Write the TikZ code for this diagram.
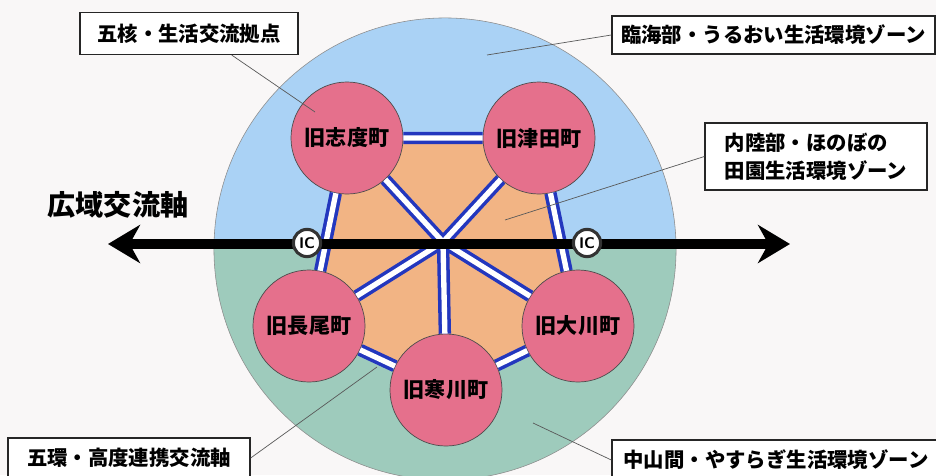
\documentclass[tikz,border=0pt]{standalone}
\usepackage{fontspec}
\newfontfamily\jp{Noto Sans CJK JP}
\usetikzlibrary{arrows.meta}
\pgfdeclarelayer{background}
\pgfsetlayers{background,main}

\definecolor{paper}{RGB}{249,247,247}
\definecolor{sea}{RGB}{170,210,245}
\definecolor{hill}{RGB}{158,203,188}
\definecolor{field}{RGB}{242,180,132}
\definecolor{town}{RGB}{229,112,140}
\definecolor{road}{RGB}{35,55,190}

\begin{document}
\begin{tikzpicture}[x=0.025cm,y=-0.025cm,
  town/.style={circle,draw=black!70,line width=0.5pt,fill=town,minimum size=2.8cm,inner sep=0pt,
    font=\jp\bfseries\fontsize{15}{18}\selectfont},
  tag/.style={draw=black!85,line width=0.9pt,fill=white,inner sep=0pt,
    font=\jp\bfseries\fontsize{14.5}{20}\selectfont},
  link/.style={draw=road,line width=2.5pt,double=white,double distance=3.8pt},
  lead/.style={draw=black!65,line width=0.5pt},
  ic/.style={circle,draw=black!80,line width=2.2pt,fill=white,minimum size=0.68cm,inner sep=0pt,
    font=\sffamily\bfseries\fontsize{11}{12}\selectfont}]
\clip (0,0) rectangle (936,475);

\coordinate (mid) at (445,249);
\coordinate (hub) at (443,242);
\node[town] at (347,138) (sido) {旧志度町};
\node[town] at (539,138) (tsuda) {旧津田町};
\node[town] at (309,326) (nagao) {旧長尾町};
\node[town] at (578,326) (okawa) {旧大川町};
\node[town] at (446,390) (samu) {旧寒川町};

\begin{pgfonlayer}{background}
\fill[paper] (0,0) rectangle (936,475);
\begin{scope}
\clip (mid) circle[radius=5.775cm];
\fill[sea] (0,0) rectangle (936,245);
\fill[hill] (0,245) rectangle (936,480);
\end{scope}
\draw[black!45,line width=0.4pt] (mid) circle[radius=5.775cm];
\fill[field] (sido.center) -- (tsuda.center) -- (okawa.center) -- (samu.center) -- (nagao.center) -- cycle;
\end{pgfonlayer}

\draw[link] (sido) -- (tsuda) (tsuda) -- (okawa) (okawa) -- (samu) (samu) -- (nagao) (nagao) -- (sido);
\draw[link] (hub) -- (sido) (hub) -- (tsuda) (hub) -- (okawa) (hub) -- (samu) (hub) -- (nagao);

\coordinate (west) at (108,244);
\coordinate (east) at (790,244);
\draw[line width=7pt,{Stealth[length=0.8cm,width=0.95cm]}-{Stealth[length=0.8cm,width=0.95cm]}] (west) -- (east);
\node[ic] at (307,243) (icw) {IC};
\node[ic] at (587,243) (ice) {IC};
\node[font=\jp\bfseries\fontsize{20}{24}\selectfont] at (118,205) (axis) {広域交流軸};

\node[tag,minimum width=5.45cm,minimum height=1.05cm] at (189,33.5) (core) {五核・生活交流拠点};
\node[tag,minimum width=8.075cm,minimum height=0.95cm] at (773.5,35) (coast) {臨海部・うるおい生活環境ゾーン};
\node[tag,minimum width=5.55cm,minimum height=1.675cm,align=left] at (816,156.5) (inland) {内陸部・ほのぼの\\田園生活環境ゾーン};
\node[tag,minimum width=6.05cm,minimum height=1cm] at (129,458) (ring) {五環・高度連携交流軸};
\node[tag,minimum width=8.2cm,minimum height=1cm] at (776,460) (hills) {中山間・やすらぎ生活環境ゾーン};

\coordinate (p1) at (315,112);
\coordinate (p2) at (487,55);
\coordinate (p3) at (505,220);
\coordinate (p4) at (377,367);
\coordinate (p5) at (533,423);
\draw[lead] ([xshift=1.07cm]core.south) -- (p1);
\draw[lead] (coast.west) -- (p2);
\draw[lead] (inland.west) -- (p3);
\draw[lead] (ring.east) -- (p4);
\draw[lead] (hills.west) -- (p5);
\end{tikzpicture}
\end{document}
